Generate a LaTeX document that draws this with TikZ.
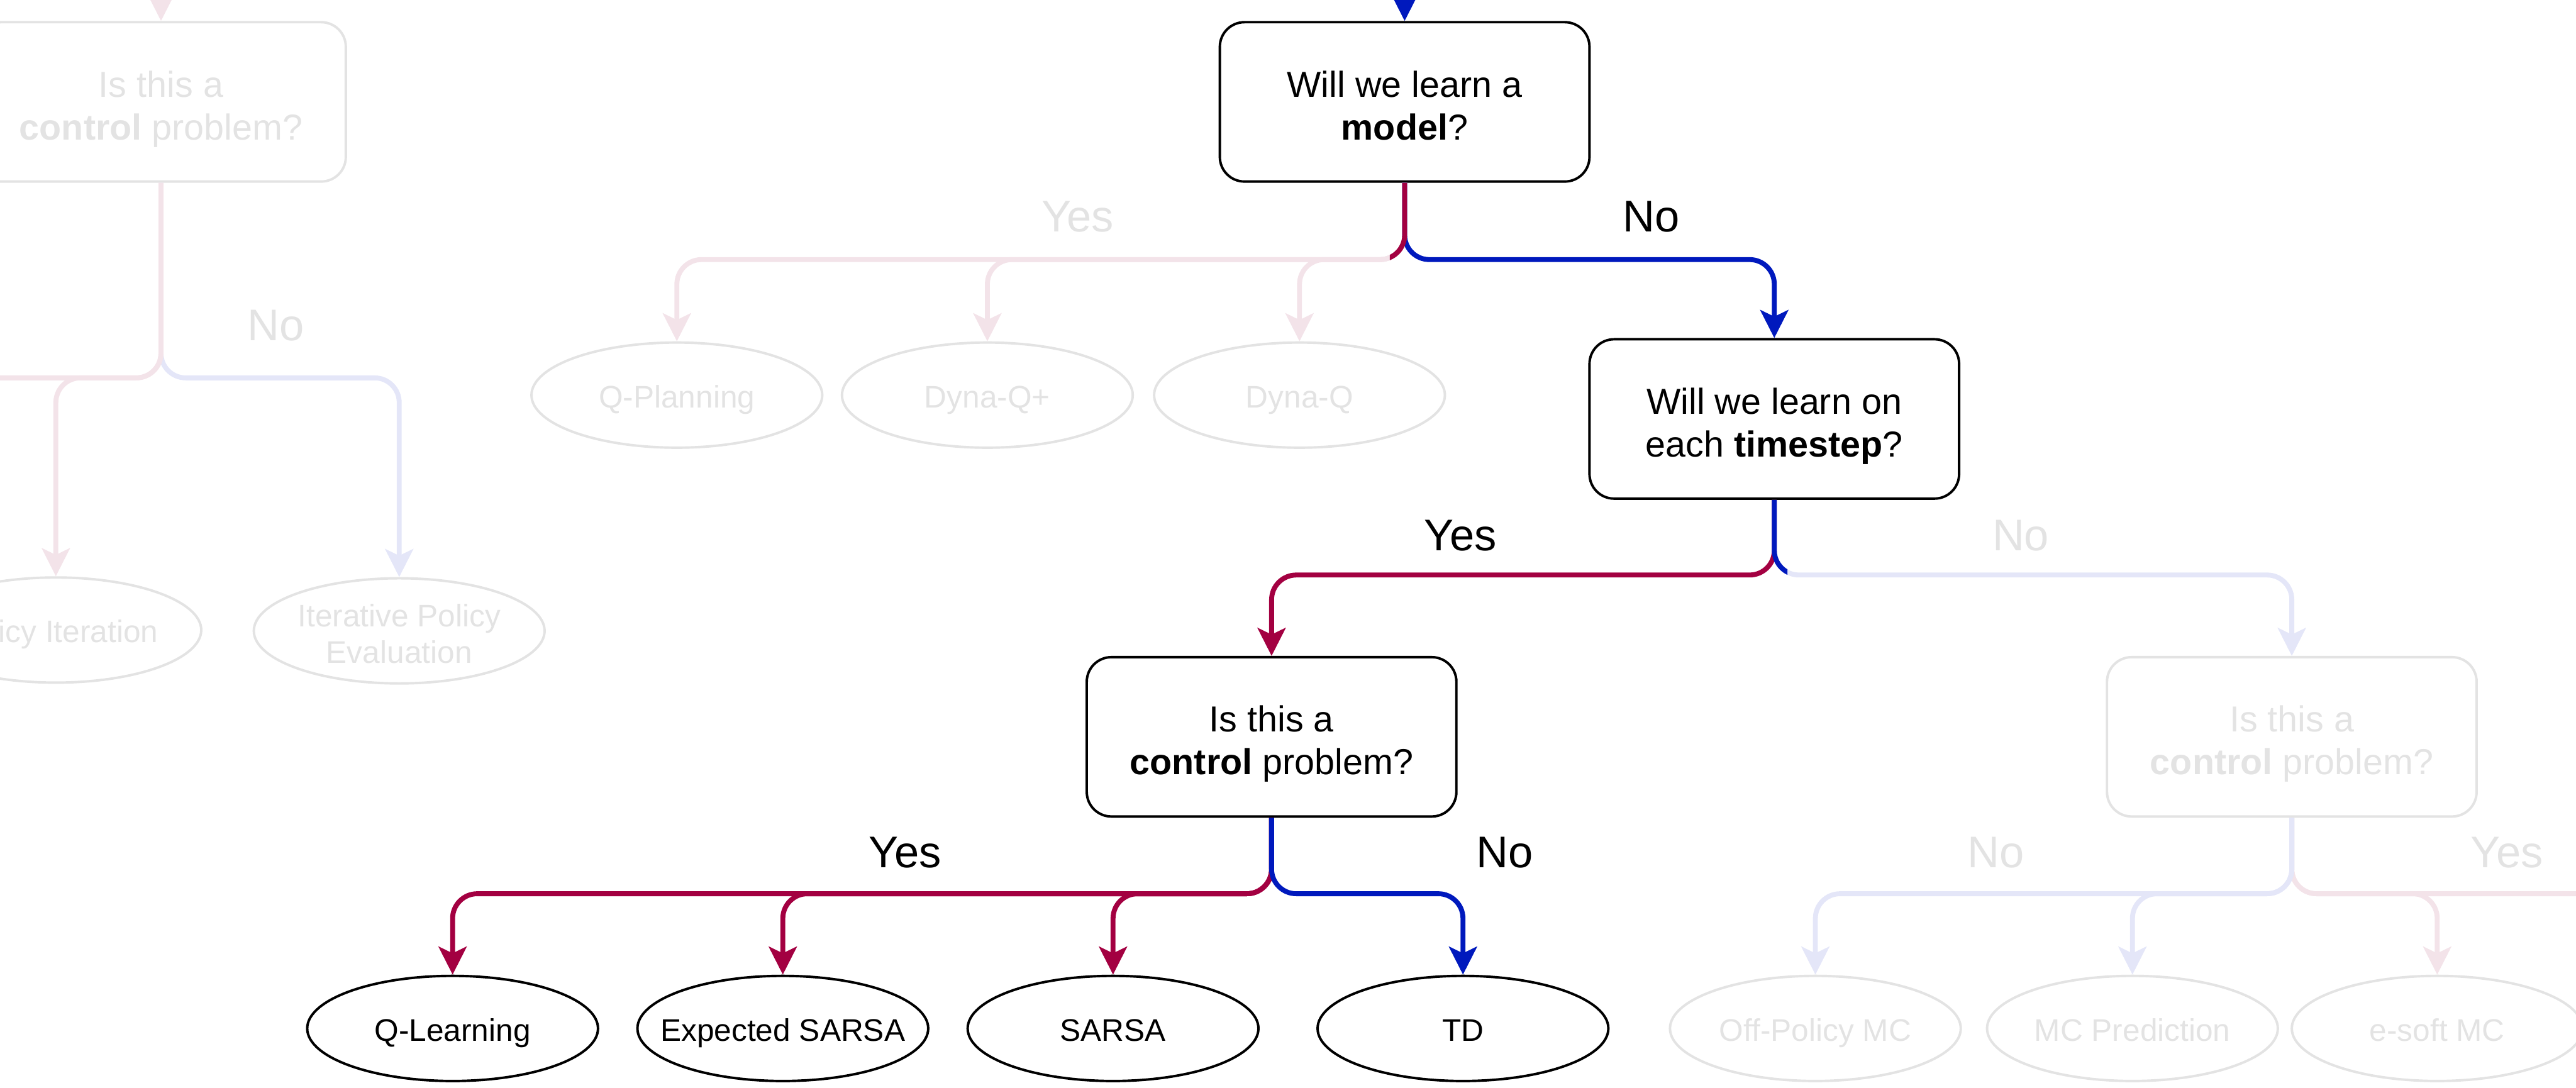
\documentclass[tikz,border=0pt]{standalone}
\usepackage{fontspec}
\setmainfont{Liberation Sans}
\usetikzlibrary{arrows.meta,shapes.geometric}
\definecolor{actred}{HTML}{A30041}
\definecolor{actblue}{HTML}{0019BD}
\definecolor{fadepink}{HTML}{F3E3E9}
\definecolor{fadelav}{HTML}{E4E6F8}
\definecolor{fadegray}{HTML}{E3E3E3}
\newcommand\ztext[1]{\raisebox{-7.5pt}[0pt][0pt]{\makebox[0pt]{\begin{tabular}{@{}c@{}}#1\end{tabular}}}}
\newcommand\btext[1]{\raisebox{-10pt}[0pt][0pt]{\makebox[0pt]{\begin{tabular}{@{}c@{}}#1\end{tabular}}}}
\begin{document}
\begin{tikzpicture}[x=1pt,y=-1pt,
  qbox/.style={draw, line width=1.5pt, rounded corners=15pt, minimum width=225pt, minimum height=97pt, inner sep=0pt, font=\fontsize{22}{26}\selectfont},
  algo/.style={draw, ellipse, line width=1.5pt, minimum width=177pt, minimum height=64pt, inner sep=0pt, font=\fontsize{19}{22}\selectfont},
  faded/.style={draw=fadegray, text=fadegray},
  lbl/.style={font=\fontsize{27}{30}\selectfont, inner sep=0pt},
  fadelbl/.style={lbl, text=fadegray},
  conn/.style={line width=3pt, rounded corners=15pt, -{Stealth[length=17pt,width=17pt,inset=4pt]}},
]
\useasboundingbox (0,0) rectangle (1568,662);
\clip (0,0) rectangle (1568,662);

% decision boxes
\node[qbox] (b1) at (855,62) {\btext{Will we learn a\\\textbf{model}?}};
\node[qbox] (b2) at (1080,255) {\btext{Will we learn on\\each \textbf{timestep}?}};
\node[qbox] (b3) at (774,448.5) {\btext{Is this a\\\textbf{control} problem?}};
\node[qbox,faded] (b4) at (1395,448.5) {\btext{Is this a\\\textbf{control} problem?}};
\node[qbox,faded] (bL) at (98,62) {\btext{Is this a\\\textbf{control} problem?}};

% algorithms
\node[algo,faded] (qp) at (412,240.5) {\ztext{Q-Planning}};
\node[algo,faded] (dqp) at (601,240.5) {\ztext{Dyna-Q+}};
\node[algo,faded] (dq) at (791,240.5) {\ztext{Dyna-Q}};
\node[algo] (ql) at (275.5,626) {\ztext{Q-Learning}};
\node[algo] (es) at (476.5,626) {\ztext{Expected SARSA}};
\node[algo] (sa) at (677.5,626) {\ztext{SARSA}};
\node[algo] (td) at (890.5,626) {\ztext{TD}};
\node[algo,faded] (opm) at (1105,626) {\ztext{Off-Policy MC}};
\node[algo,faded] (mcp) at (1298,626) {\ztext{MC Prediction}};
\node[algo,faded] (esm) at (1483.5,626) {\ztext{e-soft MC}};
\node[algo,faded] (pi) at (34,383.5) {\ztext{Policy Iteration}};
\node[algo,faded] (ipe) at (243,384) {\raisebox{-2pt}{\ztext{Iterative Policy\\Evaluation}}};

% junctions and off-screen ends
\coordinate (j1) at (855,158);
\coordinate (j2) at (1080,350);
\coordinate (j3) at (774,544);
\coordinate (j4) at (1395,544);
\coordinate (jL) at (98,230);
\coordinate (topA) at (855,-60);
\coordinate (topL) at (98,-60);
\coordinate (offL) at (-160,351);
\coordinate (offR) at (1720,594);

% labels
\node[fadelbl] (y1) at (656,132) {Yes};
\node[lbl] (n1) at (1005,132) {No};
\node[lbl] (y2) at (889,326) {Yes};
\node[fadelbl] (n2) at (1230,326) {No};
\node[lbl] (y3) at (551,519) {Yes};
\node[lbl] (n3) at (916,519) {No};
\node[fadelbl] (n4) at (1215,519) {No};
\node[fadelbl] (y4) at (1526,519) {Yes};
\node[fadelbl] (nL) at (168,198) {No};

% faded connectors
\draw[conn, fadelav] (bL.south) -- (jL) -| (ipe.north);
\draw[conn, fadepink] (bL.south) -- (jL) -| (offL);
\draw[conn, fadepink] (bL.south) -- (jL) -| (pi.north);
\draw[conn, fadepink] (topL) -- (bL.north);
\draw[conn, fadepink] (b1.south) -- (j1) -| (qp.north);
\draw[conn, fadepink] (b1.south) -- (j1) -| (dqp.north);
\draw[conn, fadepink] (b1.south) -- (j1) -| (dq.north);
\draw[conn, fadelav] (b2.south) -- (j2) -| (b4.north);
\draw[conn, fadepink] (b4.south) -- (j4) -| (offR);
\draw[conn, fadepink] (b4.south) -- (j4) -| (esm.north);
\draw[conn, fadelav] (b4.south) -- (j4) -| (opm.north);
\draw[conn, fadelav] (b4.south) -- (j4) -| (mcp.north);

% active connectors
\draw[conn, actblue] (topA) -- (b1.north);
\draw[conn, actblue] (b1.south) -- (j1) -| (b2.north);
\draw[conn, actred] (b2.south) -- (j2) -| (b3.north);
\draw[conn, actred] (b3.south) -- (j3) -| (ql.north);
\draw[conn, actred] (b3.south) -- (j3) -| (es.north);
\draw[conn, actred] (b3.south) -- (j3) -| (sa.north);
\draw[conn, actblue] (b3.south) -- (j3) -| (td.north);

% partial (in-progress) connectors
\begin{scope}
  \clip (846,100) rectangle (870,165);
  \draw[conn, -, actred] (b1.south) -- (j1) -| (dq.north);
\end{scope}
\begin{scope}
  \clip (1060,295) rectangle (1088,360);
  \draw[conn, -, actblue] (b2.south) -- (j2) -| (b4.north);
\end{scope}
\end{tikzpicture}
\end{document}
